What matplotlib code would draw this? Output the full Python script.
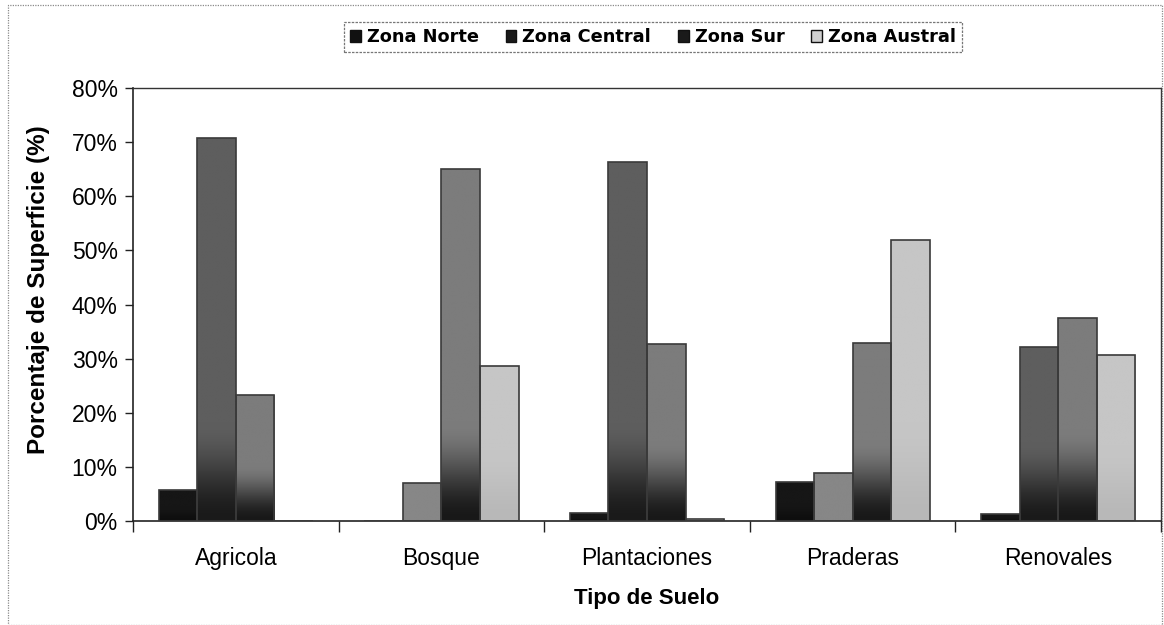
import numpy as np
import matplotlib
matplotlib.use("Agg")
import matplotlib.pyplot as plt
from matplotlib.patches import Patch, Rectangle
from matplotlib.colors import to_rgb

# ---- data ----
categories = ["Agricola", "Bosque", "Plantaciones", "Praderas", "Renovales"]
series_names = ["Zona Norte", "Zona Central", "Zona Sur", "Zona Austral"]
zona_norte = [5.7, 0.0, 1.4, 7.2, 1.3]
zona_central = [70.8, 7.0, 66.4, 8.9, 32.2]
zona_sur = [23.3, 65.1, 32.7, 32.8, 37.5]
zona_austral = [0.0, 28.7, 0.4, 51.9, 30.7]
y_ticks = [0, 10, 20, 30, 40, 50, 60, 70, 80]

values = [zona_norte, zona_central, zona_sur, zona_austral]

# styles: (top colour, bottom colour, flat colour for short bars)
styles = [
    ("#161616", "#0e0e0e", "#161616"),
    ("#5e5e5e", "#1a1a1a", "#878787"),
    ("#7c7c7c", "#181818", "#8a8a8a"),
    ("#c6c6c6", "#b8b8b8", "#c6c6c6"),
]

W, H = 1164, 625
fig = plt.figure(figsize=(W / 100, H / 100), dpi=100)
fig.patch.set_facecolor("white")

# outer chart frame
fig.add_artist(Rectangle((8 / W, 0), (1162 - 8) / W, (625 - 5) / H,
                         transform=fig.transFigure, fill=False,
                         edgecolor="#8a8a8a", lw=0.9, linestyle=(0, (1, 1))))

ax = fig.add_axes([133 / W, 1 - 521 / H, (1161 - 133) / W, (521 - 88) / H])

n = len(categories)
x = np.arange(n)
bw = 0.75 / 4
offsets = (np.arange(4) - 1.5) * bw

for si, vals in enumerate(values):
    top_c, bot_c, flat_c = styles[si]
    bars = ax.bar(x + offsets[si], vals, width=bw, facecolor="none",
                  edgecolor="#3a3a3a", linewidth=1.2, zorder=3)
    for rect in bars.patches:
        h = rect.get_height()
        if h <= 0:
            continue
        x0 = rect.get_x()
        w = rect.get_width()
        N = 200
        yy = np.linspace(0, h, N)
        if si in (1, 2) and h < 12:
            cols = np.tile(np.array(to_rgb(flat_c)), (N, 1))
        else:
            span = max(min(0.45 * h, 18), 1e-6)
            t = np.clip(yy / span, 0, 1)
            t = t * t * (3 - 2 * t)
            tc = np.array(to_rgb(top_c))
            bc = np.array(to_rgb(bot_c))
            cols = bc[None, :] * (1 - t[:, None]) + tc[None, :] * t[:, None]
        img = cols[:, None, :]
        im = ax.imshow(img, extent=[x0, x0 + w, 0, h], origin="lower",
                       aspect="auto", zorder=2, interpolation="bilinear")
        im.set_clip_path(rect)

ax.set_xlim(-0.5, n - 0.5)
ax.set_ylim(0, 80)
ax.set_yticks(y_ticks)
ax.set_yticklabels([f"{v}%" for v in y_ticks], fontfamily="Liberation Sans", fontsize=16.5)
ax.set_xticks(np.arange(n + 1) - 0.5, minor=False)
ax.set_xticklabels([])
ax.set_xticks(x, minor=True)
ax.set_xticklabels(categories, minor=True, fontfamily="Liberation Sans", fontsize=16.5)
ax.tick_params(axis="x", which="major", direction="out", length=8, width=1, color="#222")
ax.tick_params(axis="x", which="minor", length=0, pad=19)
ax.tick_params(axis="y", direction="out", length=6, width=1, color="#222", pad=5)

for s in ["left", "bottom"]:
    ax.spines[s].set_color("#222")
    ax.spines[s].set_linewidth(1.2)
for s in ["top", "right"]:
    ax.spines[s].set_color("#333")
    ax.spines[s].set_linewidth(1.0)

ax.set_xlabel("Tipo de Suelo", fontfamily="Liberation Sans", fontweight="bold",
              fontsize=16, labelpad=13)
ax.set_ylabel("Porcentaje de Superficie (%)", fontfamily="Liberation Sans",
              fontweight="bold", fontsize=17.5)
ax.yaxis.set_label_coords(-(133 - 50) / (1161 - 133), (521 - 290) / (521 - 88))

legend_cols = ["#111111", "#1a1a1a", "#1a1a1a", "#d0d0d0"]
handles = [Patch(facecolor=c, edgecolor="#111", linewidth=1.0, label=nm)
           for c, nm in zip(legend_cols, series_names)]
leg = fig.legend(handles=handles, loc="center", bbox_to_anchor=(653 / W, 1 - 37 / H),
                 ncol=4, frameon=True, fancybox=False, handlelength=0.6, handleheight=0.7,
                 handletextpad=0.35, columnspacing=1.5, borderpad=0.35,
                 prop={"family": "DejaVu Sans", "weight": "bold", "size": 12.8})
leg.get_frame().set_edgecolor("#555")
leg.get_frame().set_linewidth(0.9)
leg.get_frame().set_linestyle((0, (2, 1)))

fig.savefig("out.png", dpi=100, facecolor="white")
